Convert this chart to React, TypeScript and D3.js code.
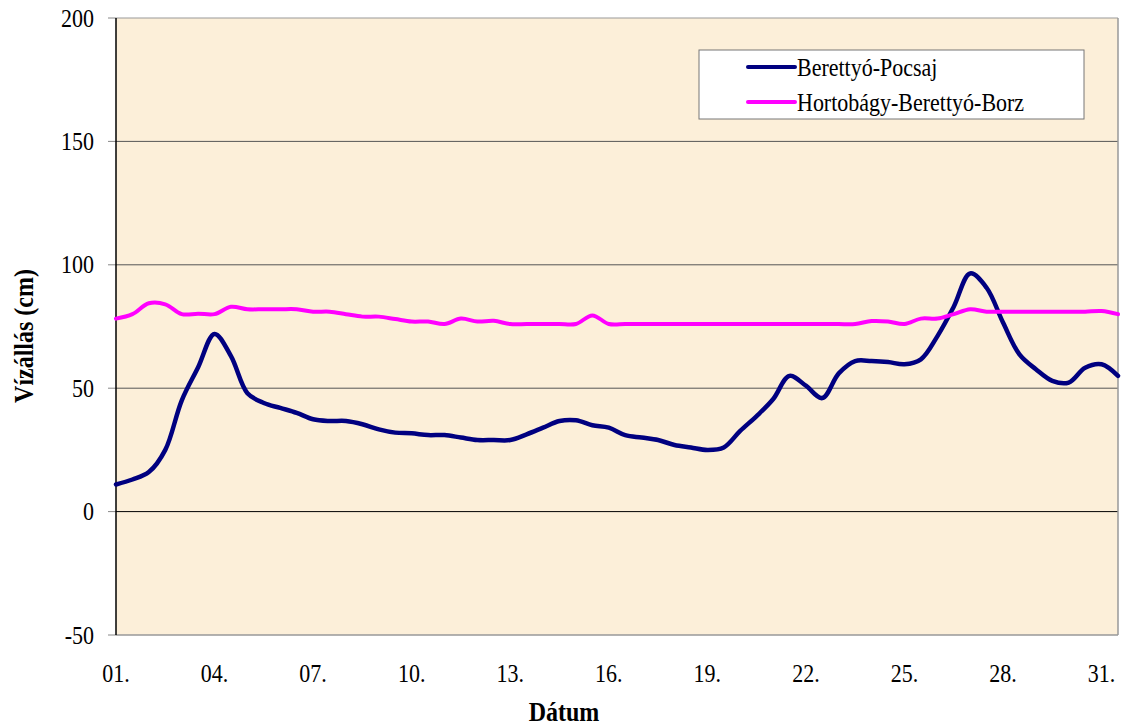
import React from "react";
import * as d3 from "d3";

// 62 half-day readings (day 1 .. day 31.5)
const pocsaj = [
  11, 13, 16, 25, 45, 58.5, 72, 63, 48, 44, 42, 40, 37.4, 36.7, 36.7, 35.4,
  33.3, 32, 31.7, 31, 31, 30, 29, 29, 29, 31.3, 34, 36.7, 37, 35, 34, 31,
  30, 29, 27, 26, 25, 26, 32.7, 38.7, 45.5, 55, 51, 46, 56, 61, 61, 60.6,
  59.7, 61.7, 71, 83, 96.5, 90.7, 76.6, 63.7, 57.7, 53, 52.3, 58.3, 59.7, 55,
];
const borz = [
  78.2, 80, 84.4, 84, 80, 80.2, 80, 83, 82, 82, 82, 82, 81, 81, 80, 79,
  79, 78, 77, 77, 76, 78.2, 77, 77.3, 76, 76, 76, 76, 76, 79.5, 76, 76,
  76, 76, 76, 76, 76, 76, 76, 76, 76, 76, 76, 76, 76, 76, 77.2, 77,
  76, 78.2, 78.2, 80, 82, 81, 81, 81, 81, 81, 81, 81, 81.3, 80,
];
const seriesNames = ["Berettyó-Pocsaj", "Hortobágy-Berettyó-Borz"];
const seriesColors = ["#000080", "#FF00FF"];
const dayLabels = ["01.", "04.", "07.", "10.", "13.", "16.", "19.", "22.", "25.", "28.", "31."];
const yTicks = [-50, 0, 50, 100, 150, 200];

const W = 1123;
const H = 727;
const M = { left: 116, right: 1118, top: 18, bottom: 635 };
const SY = 1.12; // vertical stretch of the original glyphs

function T(props: {
  x: number;
  y: number;
  size: number;
  anchor?: string;
  bold?: boolean;
  rotate?: number;
  children: React.ReactNode;
}) {
  const { x, y, size, anchor = "start", bold = false, rotate = 0, children } = props;
  return (
    <text
      transform={`translate(${x},${y}) rotate(${rotate}) scale(1,${SY})`}
      x={0}
      y={0}
      textAnchor={anchor}
      fontSize={size}
      fontWeight={bold ? "bold" : "normal"}
      fill="#000"
    >
      {children}
    </text>
  );
}

export default function App() {
  const x = d3.scaleLinear().domain([0, pocsaj.length - 1]).range([M.left, M.right]);
  const y = d3.scaleLinear().domain([-50, 200]).range([M.bottom, M.top]);
  const line = d3
    .line<number>()
    .x((_, i) => x(i))
    .y((d) => y(d))
    .curve(d3.curveCatmullRom.alpha(0.5));
  const series = [pocsaj, borz];

  return (
    <svg
      width={W}
      height={H}
      style={{ position: "absolute", left: 0, top: 0, fontFamily: "'Liberation Serif', 'Times New Roman', Times, serif" }}
    >
      <rect x={0} y={0} width={W} height={H} fill="#ffffff" />
      <rect x={M.left} y={M.top} width={M.right - M.left} height={M.bottom - M.top} fill="#FCEFD9" />
      {yTicks.map((t) => (
        <g key={t}>
          {t > -50 && t < 200 && (
            <line x1={M.left} x2={M.right} y1={y(t)} y2={y(t)} stroke={t === 0 ? "#000" : "#555"} strokeWidth={1} />
          )}
          <line x1={M.left - 8} x2={M.left} y1={y(t)} y2={y(t)} stroke="#888" strokeWidth={1} />
          <T x={94} y={y(t) + 8.5} size={22} anchor="end">
            {t}
          </T>
        </g>
      ))}
      {/* plot borders */}
      <line x1={M.left} x2={M.right} y1={M.top} y2={M.top} stroke="#999" strokeWidth={1} />
      <line x1={M.right} x2={M.right} y1={M.top} y2={M.bottom} stroke="#999" strokeWidth={1.5} />
      <line x1={M.left} x2={M.right} y1={M.bottom} y2={M.bottom} stroke="#999" strokeWidth={1.5} />
      <line x1={M.left} x2={M.left} y1={M.top} y2={M.bottom} stroke="#000" strokeWidth={1.5} />
      {dayLabels.map((lab, k) => (
        <T key={lab} x={x(k * 6)} y={682} size={22} anchor="middle">
          {lab}
        </T>
      ))}
      {series.map((s, k) => (
        <path
          key={k}
          d={line(s) || ""}
          fill="none"
          stroke={seriesColors[k]}
          strokeWidth={k === 0 ? 4.5 : 4}
          strokeLinejoin="round"
          strokeLinecap="round"
        />
      ))}
      {/* legend */}
      <rect x={699} y={50} width={385} height={69} fill="#fff" stroke="#777" strokeWidth={1} />
      {seriesNames.map((n, k) => (
        <g key={n}>
          <line x1={748} x2={795} y1={67 + k * 35} y2={67 + k * 35} stroke={seriesColors[k]} strokeWidth={4} strokeLinecap="round" />
          <T x={797} y={76 + k * 34.5} size={22}>
            {n}
          </T>
        </g>
      ))}
      <T x={564} y={721} size={24} anchor="middle" bold>
        Dátum
      </T>
      <T x={33} y={336} size={24} anchor="middle" bold rotate={-90}>
        Vízállás (cm)
      </T>
    </svg>
  );
}
